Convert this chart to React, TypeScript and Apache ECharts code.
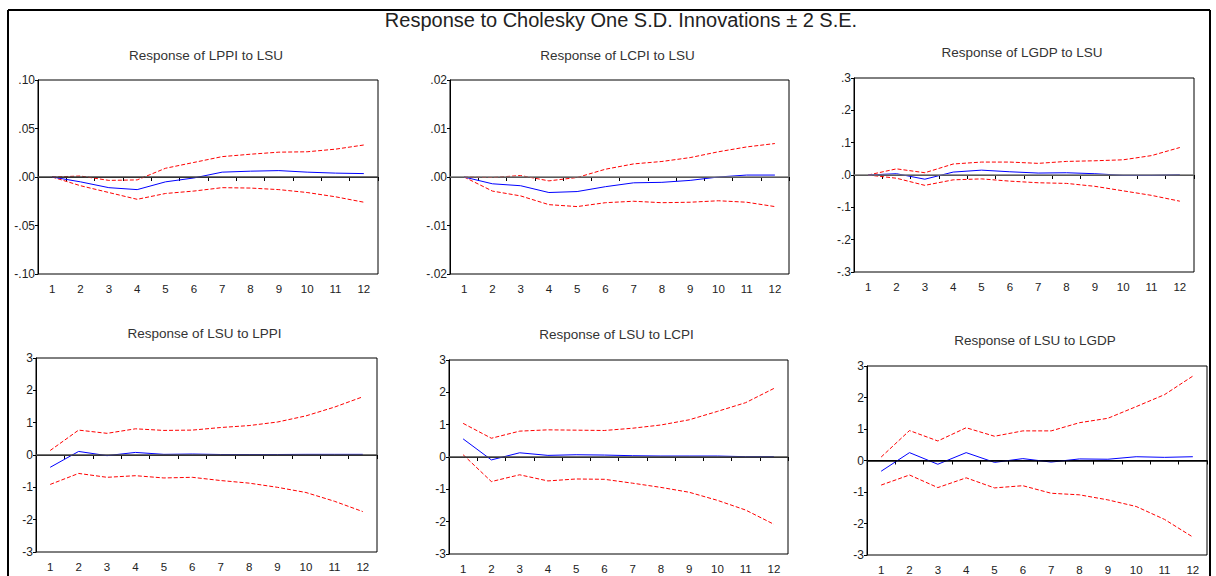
import React, { useEffect, useRef } from "react";
import * as echarts from "echarts";

const periods = ["1", "2", "3", "4", "5", "6", "7", "8", "9", "10", "11", "12"];

const mainTitle = "Response to Cholesky One S.D. Innovations \u00b1 2 S.E.";

// Response of LPPI to LSU
const lppiLsuResp = [0, -0.005, -0.011, -0.013, -0.005, -0.001, 0.005, 0.006, 0.0066, 0.005, 0.004, 0.0035];
const lppiLsuUpper = [0, 0.001, -0.0035, -0.003, 0.009, 0.015, 0.021, 0.0235, 0.0256, 0.026, 0.0287, 0.033];
const lppiLsuLower = [0, -0.009, -0.016, -0.023, -0.017, -0.0145, -0.011, -0.0114, -0.013, -0.016, -0.0204, -0.026];

// Response of LCPI to LSU
const lcpiLsuResp = [0, -0.0014, -0.0018, -0.0032, -0.003, -0.002, -0.0012, -0.0011, -0.0007, 0, 0.0004, 0.0004];
const lcpiLsuUpper = [0, -0.0001, 0.0003, -0.0008, -0.0001, 0.0016, 0.0027, 0.0032, 0.004, 0.0052, 0.0062, 0.0069];
const lcpiLsuLower = [0, -0.0029, -0.0039, -0.0057, -0.0061, -0.0053, -0.005, -0.0053, -0.0052, -0.0049, -0.0052, -0.0061];

// Response of LGDP to LSU
const lgdpLsuResp = [0, 0.004, -0.013, 0.009, 0.015, 0.01, 0.006, 0.007, 0.004, -0.001, -0.001, 0.001];
const lgdpLsuUpper = [0, 0.019, 0.007, 0.034, 0.04, 0.04, 0.036, 0.042, 0.044, 0.047, 0.06, 0.085];
const lgdpLsuLower = [0, -0.01, -0.032, -0.015, -0.012, -0.019, -0.024, -0.026, -0.035, -0.049, -0.063, -0.081];

// Response of LSU to LPPI
const lsuLppiResp = [-0.38, 0.11, -0.02, 0.08, 0.02, 0.03, 0.015, 0.015, 0.015, 0.02, 0.02, 0.02];
const lsuLppiUpper = [0.14, 0.77, 0.67, 0.81, 0.76, 0.77, 0.85, 0.91, 1.02, 1.21, 1.48, 1.8];
const lsuLppiLower = [-0.91, -0.57, -0.69, -0.64, -0.71, -0.69, -0.79, -0.87, -1.0, -1.16, -1.43, -1.75];

// Response of LSU to LCPI
const lsuLcpiResp = [0.56, -0.09, 0.13, 0.05, 0.07, 0.06, 0.04, 0.03, 0.03, 0.03, 0.01, 0.01];
const lsuLcpiUpper = [1.04, 0.58, 0.8, 0.84, 0.83, 0.82, 0.89, 0.99, 1.15, 1.41, 1.68, 2.12];
const lsuLcpiLower = [0.07, -0.76, -0.55, -0.74, -0.68, -0.69, -0.81, -0.94, -1.09, -1.34, -1.64, -2.08];

// Response of LSU to LGDP
const lsuLgdpResp = [-0.34, 0.25, -0.12, 0.25, -0.06, 0.06, -0.05, 0.05, 0.04, 0.12, 0.1, 0.12];
const lsuLgdpUpper = [0.11, 0.95, 0.62, 1.04, 0.77, 0.94, 0.94, 1.2, 1.34, 1.71, 2.09, 2.68];
const lsuLgdpLower = [-0.78, -0.46, -0.86, -0.55, -0.87, -0.8, -1.04, -1.09, -1.25, -1.46, -1.87, -2.43];

const panels = [
  { title: "Response of LPPI to LSU", resp: lppiLsuResp, upper: lppiLsuUpper, lower: lppiLsuLower, min: -0.1, max: 0.1, interval: 0.05, dec: 2, grid: { left: 38, top: 80, width: 340, height: 194 }, titleY: 55, zero: "#444" },
  { title: "Response of LCPI to LSU", resp: lcpiLsuResp, upper: lcpiLsuUpper, lower: lcpiLsuLower, min: -0.02, max: 0.02, interval: 0.01, dec: 2, grid: { left: 450, top: 80, width: 339, height: 194 }, titleY: 55, zero: "#777" },
  { title: "Response of LGDP to LSU", resp: lgdpLsuResp, upper: lgdpLsuUpper, lower: lgdpLsuLower, min: -0.3, max: 0.3, interval: 0.1, dec: 1, grid: { left: 854, top: 78, width: 340, height: 194 }, titleY: 52, zero: "#777" },
  { title: "Response of LSU to LPPI", resp: lsuLppiResp, upper: lsuLppiUpper, lower: lsuLppiLower, min: -3, max: 3, interval: 1, dec: 0, grid: { left: 36, top: 358, width: 341, height: 194 }, titleY: 333, zero: "#444" },
  { title: "Response of LSU to LCPI", resp: lsuLcpiResp, upper: lsuLcpiUpper, lower: lsuLcpiLower, min: -3, max: 3, interval: 1, dec: 0, grid: { left: 449, top: 360, width: 339, height: 194 }, titleY: 334, zero: "#444" },
  { title: "Response of LSU to LGDP", resp: lsuLgdpResp, upper: lsuLgdpUpper, lower: lsuLgdpLower, min: -3, max: 3, interval: 1, dec: 0, grid: { left: 867, top: 366, width: 340, height: 193 }, titleY: 340, zero: "#000" },
];

const FONT = "Liberation Sans, Arial, sans-serif";

function fmt(dec: number) {
  return (v: number) => {
    if (dec === 0) return String(Math.round(v));
    const s = v.toFixed(dec);
    return s.replace(/^(-?)0\./, "$1.");
  };
}

export default function App() {
  const ref = useRef<HTMLDivElement>(null);
  useEffect(() => {
    if (!ref.current) return;
    const chart = echarts.init(ref.current, null, { renderer: "svg" });
    const grids: any[] = [];
    const xAxes: any[] = [];
    const yAxes: any[] = [];
    const series: any[] = [];
    const graphics: any[] = [];

    graphics.push({
      type: "text",
      x: 621,
      y: 20,
      z: 100,
      style: { text: mainTitle, font: `20px ${FONT}`, fill: "#222", textAlign: "center", textVerticalAlign: "middle" },
    });

    panels.forEach((p, i) => {
      grids.push({ ...p.grid, show: true, borderColor: "#000", borderWidth: 1, backgroundColor: "#fff", containLabel: false });
      xAxes.push({
        type: "category",
        gridIndex: i,
        data: periods,
        boundaryGap: true,
        axisLine: { show: true, lineStyle: { color: "#000", width: 1 } },
        axisTick: { show: true, alignWithLabel: false, interval: 0, length: 4, lineStyle: { color: "#000" } },
        axisLabel: { interval: 0, margin: 9, color: "#222", fontSize: 11.5, fontFamily: FONT },
        splitLine: { show: false },
      });
      yAxes.push({
        type: "value",
        gridIndex: i,
        min: p.min,
        max: p.max,
        interval: p.interval,
        axisLine: { show: true, lineStyle: { color: "#000", width: 1 } },
        axisTick: { show: true, length: 3, lineStyle: { color: "#000" } },
        axisLabel: { margin: 3, color: "#222", fontSize: 12, fontFamily: FONT, formatter: fmt(p.dec) },
        splitLine: { show: false },
      });
      series.push({
        type: "line",
        xAxisIndex: i,
        yAxisIndex: i,
        data: [],
        z: 1,
        markLine: {
          silent: true,
          symbol: "none",
          label: { show: false },
          lineStyle: { color: p.zero, width: 1.5, type: "solid" },
          data: [{ yAxis: 0 }],
        },
      });
      const common = { type: "line", xAxisIndex: i, yAxisIndex: i, symbol: "none", showSymbol: false, silent: true };
      series.push({ ...common, data: p.upper, z: 2, lineStyle: { color: "#ff0000", width: 1, type: [4, 2] } });
      series.push({ ...common, data: p.lower, z: 2, lineStyle: { color: "#ff0000", width: 1, type: [4, 2] } });
      series.push({ ...common, data: p.resp, z: 3, lineStyle: { color: "#0000ff", width: 1 } });

      graphics.push({
        type: "text",
        x: p.grid.left + p.grid.width / 2 - 2,
        y: p.titleY,
        z: 100,
        style: { text: p.title, font: `13.5px ${FONT}`, fill: "#333", textAlign: "center", textVerticalAlign: "middle" },
      });
    });

    // outer frame
    graphics.push({ type: "line", z: 100, shape: { x1: 8, y1: 10, x2: 1210, y2: 10 }, style: { stroke: "#000", lineWidth: 2 } });
    graphics.push({ type: "line", z: 100, shape: { x1: 8, y1: 10, x2: 8, y2: 576 }, style: { stroke: "#000", lineWidth: 2 } });
    graphics.push({ type: "line", z: 100, shape: { x1: 1210, y1: 10, x2: 1210, y2: 576 }, style: { stroke: "#000", lineWidth: 2 } });

    chart.setOption({
      animation: false,
      backgroundColor: "#fff",
      grid: grids,
      xAxis: xAxes,
      yAxis: yAxes,
      series,
      graphic: graphics,
    });
    return () => chart.dispose();
  }, []);
  return <div ref={ref} style={{ position: "fixed", left: 0, top: 0, width: 1216, height: 576 }} />;
}
